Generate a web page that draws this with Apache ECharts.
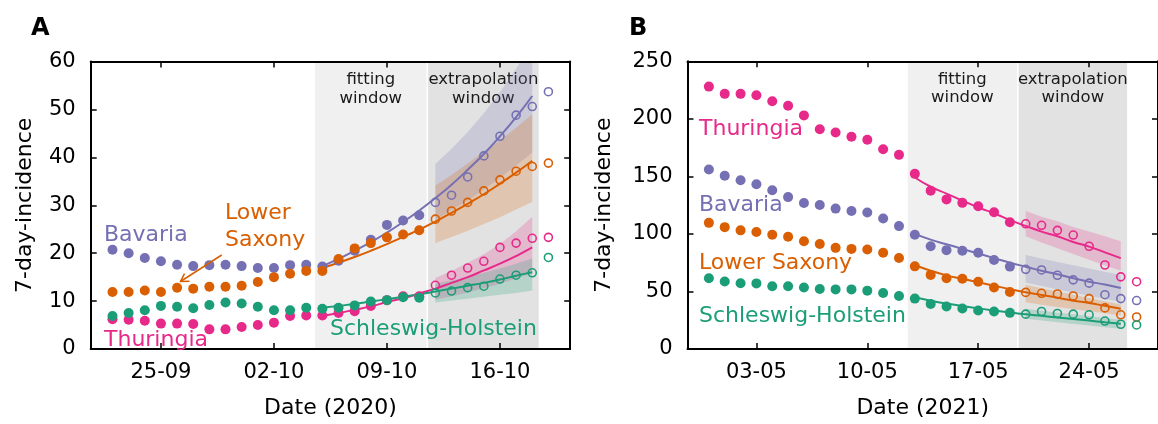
<!DOCTYPE html>
<html>
<head>
<meta charset="utf-8">
<script src="https://cdn.jsdelivr.net/npm/echarts@6/dist/echarts.min.js"></script>
<style>
html, body { margin: 0; padding: 0; background: #fff; }
#chart { width: 1158px; height: 424px; }
</style>
</head>
<body>
<div id="chart"></div>
<script>
// day index, 0 = first plotted day of each panel (22-09-2020 / 30-04-2021)
const days = [0, 1, 2, 3, 4, 5, 6, 7, 8, 9, 10, 11, 12, 13, 14, 15, 16, 17, 18, 19, 20, 21, 22, 23, 24, 25, 26, 27];
const firstOpenDay = 20;
const fitDays = [13, 14, 15, 16, 17, 18, 19, 20, 21, 22, 23, 24, 25, 26];
const bandDays = [20, 21, 22, 23, 24, 25, 26];

const tickDays = [3, 10, 17, 24];
const tickLabelsA = ['25-09', '02-10', '09-10', '16-10'];
const tickLabelsB = ['03-05', '10-05', '17-05', '24-05'];

// ---- panel A (2020) ----
const bavA = [20.7, 20.0, 19.0, 18.3, 17.6, 17.3, 17.5, 17.6, 17.3, 16.9, 16.9, 17.5, 17.6, 17.2, 18.4, 20.5, 22.8, 25.9, 26.8, 27.9, 30.6, 32.1, 35.9, 40.3, 44.4, 48.8, 50.6, 53.7];
const lsA = [11.9, 11.9, 12.2, 11.9, 12.8, 12.6, 13.0, 13.0, 13.2, 14.0, 15.0, 15.7, 16.3, 16.3, 18.8, 21.0, 22.1, 23.3, 23.9, 24.8, 27.1, 28.8, 30.6, 33.0, 35.3, 37.1, 38.1, 38.8];
const thA = [6.2, 6.1, 5.9, 5.3, 5.3, 5.2, 4.1, 4.1, 4.6, 5.0, 5.5, 6.9, 7.0, 7.0, 7.5, 7.9, 9.0, 10.2, 11.0, 11.0, 13.3, 15.4, 16.9, 18.3, 21.2, 22.1, 23.1, 23.3];
const shA = [6.9, 7.5, 8.1, 9.0, 8.8, 8.5, 9.2, 9.7, 9.5, 8.8, 8.1, 8.1, 8.6, 8.4, 8.6, 9.1, 9.9, 10.2, 10.8, 10.7, 11.7, 12.1, 12.8, 13.1, 14.6, 15.4, 15.9, 19.1];

const bavFitA = [17.3, 18.8, 20.5, 22.3, 24.3, 26.5, 28.9, 31.5, 34.3, 37.4, 40.7, 44.4, 48.4, 52.8];
const lsFitA = [16.9, 18.0, 19.2, 20.5, 21.9, 23.4, 24.9, 26.6, 28.4, 30.3, 32.3, 34.5, 36.8, 39.3];
const thFitA = [6.9, 7.5, 8.2, 8.9, 9.8, 10.6, 11.6, 12.6, 13.8, 15.0, 16.4, 17.8, 19.4, 21.2];
const shFitA = [8.6, 9.0, 9.4, 9.9, 10.4, 10.9, 11.4, 12.0, 12.6, 13.2, 13.8, 14.5, 15.3, 16.0];

const bavHiA = [38.6, 41.8, 45.3, 49.2, 53.6, 58.5, 64.0];
const bavLoA = [27.0, 29.0, 31.0, 33.3, 35.7, 38.3, 41.0];
const lsHiA = [34.1, 36.3, 38.7, 41.2, 43.5, 46.2, 49.0];
const lsLoA = [22.1, 23.4, 24.7, 26.1, 27.5, 29.1, 30.7];
const thHiA = [14.8, 16.3, 18.0, 19.8, 21.9, 24.6, 27.6];
const thLoA = [10.3, 11.0, 11.8, 12.7, 13.6, 14.7, 15.8];
const shHiA = [13.6, 14.3, 15.0, 15.9, 16.8, 17.8, 18.9];
const shLoA = [9.7, 10.1, 10.5, 10.9, 11.3, 11.7, 12.2];

// ---- panel B (2021) ----
const thB = [228.0, 221.7, 221.7, 220.5, 215.3, 211.3, 203.0, 191.0, 188.1, 184.4, 181.8, 173.5, 168.7, 152.2, 137.6, 130.0, 127.0, 124.1, 118.8, 110.1, 108.8, 107.5, 103.1, 99.0, 89.3, 73.0, 62.7, 58.5];
const bavB = [156.0, 150.6, 146.6, 143.1, 138.0, 132.0, 126.8, 125.1, 122.0, 119.9, 118.6, 113.4, 106.8, 99.3, 89.3, 85.9, 85.3, 83.6, 77.3, 71.6, 69.2, 68.7, 64.1, 60.1, 57.2, 47.2, 43.8, 42.1];
const lsB = [109.6, 105.9, 103.1, 101.6, 99.3, 97.6, 93.6, 91.3, 87.9, 87.0, 86.4, 83.6, 79.0, 71.8, 64.4, 61.5, 61.0, 58.4, 53.5, 49.5, 49.2, 48.4, 47.8, 46.1, 43.8, 35.7, 29.7, 27.8];
const shB = [61.5, 58.7, 57.2, 57.0, 54.6, 54.6, 53.5, 52.1, 51.8, 51.8, 50.7, 48.6, 46.1, 43.8, 39.2, 36.9, 35.2, 33.5, 32.6, 31.4, 30.3, 32.6, 30.9, 30.3, 29.7, 24.3, 21.5, 20.9];

const thFitB = [149, 141, 135, 129, 123, 118, 112, 107, 102, 98, 93, 89, 84, 79];
const bavFitB = [100, 95, 91, 87, 83, 79, 75, 71.5, 68, 65, 61.5, 58.5, 56, 53];
const lsFitB = [73, 68, 64, 61, 58, 55, 52, 49.3, 47, 44.5, 42, 40, 37.5, 35];
const shFitB = [45, 42, 39.5, 37.3, 35.3, 33.5, 31.8, 30.2, 28.8, 27.4, 26, 24.7, 23.3, 22];

const thHiB = [120, 115, 111, 106, 102, 98, 93.6];
const thLoB = [97.9, 92.5, 87.5, 82.5, 77.5, 72.5, 67.9];
const bavHiB = [81.6, 78.6, 75.7, 72.8, 70.0, 67.2, 64.4];
const bavLoB = [57.8, 54.8, 51.8, 49.0, 46.2, 43.5, 41.0];
const lsHiB = [55.8, 52.8, 50.0, 47.2, 44.4, 41.5, 38.7];
const lsLoB = [40.6, 38.5, 36.6, 34.7, 32.8, 31.0, 29.2];
const shHiB = [34.9, 33.2, 31.6, 30.2, 28.7, 27.0, 25.4];
const shLoB = [26.3, 24.8, 23.3, 21.8, 20.4, 19.0, 17.7];

// window edges (day index)
const fitWindow = [12.55, 19.45];
const extrapWindow = [19.55, 26.4];

const C = { bav: '#7570b3', ls: '#d95f02', th: '#e7298a', sh: '#1b9e77' };
const FONT = 'DejaVu Sans';

const pairs = (xs, ys) => xs.map((x, i) => [x, ys[i]]);

// uncertainty band as one polygon, positioned through the axis scales
function bandSeries(ax, key, hi, lo) {
  return {
    type: 'custom', xAxisIndex: ax, yAxisIndex: ax, clip: true, z: 2, silent: true,
    data: bandDays.map((d, i) => [d, lo[i], hi[i]]),
    encode: { x: 0, y: [1, 2] },
    renderItem: (params, api) => {
      if (params.dataIndex !== 0) return;
      const upper = bandDays.map((d, i) => api.coord([d, hi[i]]));
      const lower = bandDays.map((d, i) => api.coord([d, lo[i]])).reverse();
      return { type: 'polygon', shape: { points: upper.concat(lower) }, style: { fill: C[key], opacity: 0.22 } };
    }
  };
}

function stateSeries(ax, key, obs, fit, hi, lo, extra) {
  const filled = pairs(days, obs).filter(p => p[0] < firstOpenDay);
  const open = pairs(days, obs).filter(p => p[0] >= firstOpenDay);
  const s = [
    bandSeries(ax, key, hi, lo),
    { type: 'line', xAxisIndex: ax, yAxisIndex: ax, data: pairs(fitDays, fit), smooth: true,
      symbol: 'none', lineStyle: { color: C[key], width: 2 }, z: 3, silent: true },
    { type: 'scatter', xAxisIndex: ax, yAxisIndex: ax, data: filled, symbolSize: 10,
      itemStyle: { color: C[key], opacity: 1 }, z: 4, silent: true },
    { type: 'scatter', xAxisIndex: ax, yAxisIndex: ax, data: open, symbolSize: 8,
      itemStyle: { color: 'transparent', borderColor: C[key], borderWidth: 1.6, opacity: 1 }, z: 4, silent: true }
  ];
  if (extra) Object.assign(s[2], extra);
  return s;
}

function windows() {
  const lbl = { show: true, position: 'insideTop', distance: 9, color: '#1a1a1a',
    fontFamily: FONT, fontSize: 16.5, lineHeight: 18.5, align: 'center' };
  return {
    markArea: {
      silent: true,
      data: [
        [{ xAxis: fitWindow[0], name: 'fitting\nwindow', itemStyle: { color: '#f0f0f0' }, label: lbl },
         { xAxis: fitWindow[1] }],
        [{ xAxis: extrapWindow[0], name: 'extrapolation\nwindow', itemStyle: { color: '#e2e2e2' }, label: lbl },
         { xAxis: extrapWindow[1] }]
      ]
    }
  };
}

function xAx(grid, labels, pos) {
  const bottom = pos === 'bottom';
  return {
    type: 'value', gridIndex: grid, position: pos, min: -1.35, max: 28.35, z: 10,
    splitLine: { show: false },
    axisLine: { show: true, onZero: false, lineStyle: { color: '#000', width: 2 } },
    axisTick: { show: true, inside: true, length: 6, customValues: tickDays, lineStyle: { color: '#000', width: 1.5 } },
    axisLabel: { show: bottom, customValues: tickDays, margin: 13, color: '#000', fontFamily: FONT, fontSize: 21,
      formatter: v => labels[tickDays.indexOf(v)] },
    name: bottom ? (grid === 0 ? 'Date (2020)' : 'Date (2021)') : '',
    nameLocation: 'middle', nameGap: 48,
    nameTextStyle: { color: '#000', fontFamily: FONT, fontSize: 22 }
  };
}

function yAx(grid, max, interval, pos, gap) {
  const left = pos === 'left';
  return {
    type: 'value', gridIndex: grid, position: pos, min: 0, max: max, interval: interval, z: 10,
    splitLine: { show: false },
    axisLine: { show: true, onZero: false, lineStyle: { color: '#000', width: 2 } },
    axisTick: { show: true, inside: true, length: 6, lineStyle: { color: '#000', width: 1.5 } },
    axisLabel: { show: left, margin: 15, color: '#000', fontFamily: FONT, fontSize: 21 },
    name: left ? '7-day-incidence' : '', nameLocation: 'middle', nameGap: gap,
    nameTextStyle: { color: '#000', fontFamily: FONT, fontSize: 22 }
  };
}

const series = [].concat(
  stateSeries(0, 'bav', bavA, bavFitA, bavHiA, bavLoA, windows()),
  stateSeries(0, 'ls', lsA, lsFitA, lsHiA, lsLoA),
  stateSeries(0, 'th', thA, thFitA, thHiA, thLoA),
  stateSeries(0, 'sh', shA, shFitA, shHiA, shLoA),
  stateSeries(2, 'th', thB, thFitB, thHiB, thLoB, windows()),
  stateSeries(2, 'bav', bavB, bavFitB, bavHiB, bavLoB),
  stateSeries(2, 'ls', lsB, lsFitB, lsHiB, lsLoB),
  stateSeries(2, 'sh', shB, shFitB, shHiB, shLoB)
);

const txt = (x, y, text, color, size, lineHeight) => ({
  type: 'text', left: x, top: y, silent: true, z: 20,
  style: { text: text, fill: color, fontFamily: FONT, fontSize: size, lineHeight: lineHeight || size * 1.2 }
});

const chart = echarts.init(document.getElementById('chart'), null, { renderer: 'canvas' });
chart.setOption({
  animation: false,
  backgroundColor: '#fff',
  grid: [
    { left: 90.7, top: 61.5, width: 479.5, height: 290.2 },
    { left: 687.5, top: 61.3, width: 480.2, height: 291 }
  ],
  xAxis: [xAx(0, tickLabelsA, 'bottom'), xAx(0, tickLabelsA, 'top'), xAx(1, tickLabelsB, 'bottom'), xAx(1, tickLabelsB, 'top')],
  yAxis: [yAx(0, 60, 10, 'left', 54), yAx(0, 60, 10, 'right', 0), yAx(1, 250, 50, 'left', 72), yAx(1, 250, 50, 'right', 0)],
  series: series,
  graphic: [
    { type: 'text', left: 31, top: 17, z: 20, style: { text: 'A', fill: '#000', fontFamily: FONT, fontSize: 24, fontWeight: 'bold' } },
    { type: 'text', left: 629, top: 17, z: 20, style: { text: 'B', fill: '#000', fontFamily: FONT, fontSize: 24, fontWeight: 'bold' } },
    txt(104, 222, 'Bavaria', C.bav, 22),
    txt(225, 200, 'Lower\nSaxony', C.ls, 22, 27),
    txt(104, 327, 'Thuringia', C.th, 22),
    txt(330, 316, 'Schleswig-Holstein', C.sh, 22),
    { type: 'line', silent: true, z: 20, shape: { x1: 221.7, y1: 255, x2: 180.5, y2: 281.5 }, style: { stroke: C.ls, lineWidth: 1.5 } },
    { type: 'polyline', silent: true, z: 20, shape: { points: [[189.5, 281.2], [180.5, 281.5], [184.5, 273.6]] }, style: { stroke: C.ls, lineWidth: 1.5, fill: null } },
    txt(699, 116, 'Thuringia', C.th, 22),
    txt(699, 192, 'Bavaria', C.bav, 22),
    txt(699, 250, 'Lower Saxony', C.ls, 22),
    txt(699, 303, 'Schleswig-Holstein', C.sh, 22)
  ]
});
</script>
</body>
</html>
